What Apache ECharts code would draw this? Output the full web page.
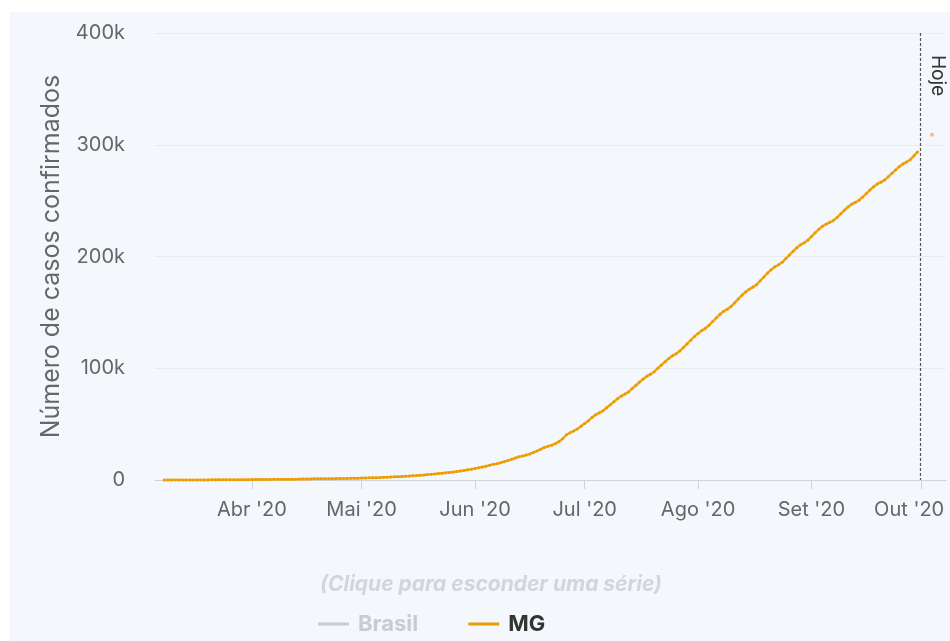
<!DOCTYPE html>
<html>
<head>
<meta charset="utf-8">
<script src="https://cdn.jsdelivr.net/npm/echarts@6/dist/echarts.min.js"></script>
<style>
  html, body { margin: 0; padding: 0; background: #ffffff; width: 950px; height: 641px; overflow: hidden; }
  #panel { position: absolute; left: 10px; top: 12px; width: 940px; height: 629px; background: #f4f7fb; }
  #chart { position: absolute; left: 0; top: 0; width: 950px; height: 641px; }
</style>
</head>
<body>
<div id="panel"></div>
<div id="chart"></div>
<script>
// ---- Data (cumulative confirmed cases, MG) ----
const firstDay = '2020-03-08';
const casesMar = [1, 1, 1, 1, 1, 2, 2, 7, 15, 20, 29, 35, 83, 128, 133, 153, 189, 205, 231, 261, 262, 275, 299, 314];
const casesApr = [370, 397, 430, 462, 491, 525, 560, 614, 661, 699, 727, 747, 775, 815, 867, 920, 963, 1009, 1044, 1088, 1115, 1154, 1213, 1265, 1330, 1382, 1417, 1474, 1580, 1650];
const casesMay = [1750, 1830, 1915, 2005, 2110, 2240, 2390, 2530, 2700, 2800, 2930, 3150, 3370, 3600, 3870, 4090, 4330, 4550, 4830, 5130, 5410, 5780, 6140, 6450, 6800, 7150, 7550, 8020, 8550, 9100, 9600];
const casesJun = [10200, 10900, 11600, 12400, 13300, 14000, 14600, 15400, 16400, 17400, 18500, 19700, 20700, 21400, 22300, 23300, 24700, 26000, 27600, 29100, 30300, 31200, 32500, 34500, 37000, 40500, 42300, 43900, 45700, 48200];
const casesJul = [50500, 53100, 55900, 58300, 60100, 61900, 64600, 67300, 70100, 72800, 75100, 76900, 78800, 81900, 84800, 87700, 90400, 92900, 94700, 96900, 100100, 103000, 105900, 108700, 111200, 112900, 115400, 118600, 121900, 125100, 128300];
const casesAug = [131200, 133700, 135700, 138500, 141900, 145100, 148300, 151000, 152900, 155200, 158600, 162000, 165300, 168300, 170800, 172600, 174800, 178300, 181700, 185200, 188200, 190800, 192600, 194800, 198100, 201400, 204800, 207800, 210500, 212200, 214600];
const casesSep = [217900, 221200, 224300, 227000, 228900, 230600, 232200, 235000, 238200, 241400, 244300, 246800, 248500, 250300, 253200, 256300, 259500, 262400, 264900, 266500, 268400, 271300, 274400, 277500, 280400, 282800, 284500, 286600, 290000, 293600];
const nextPoint = ['2020-10-04', 309000];
const todayDate = '2020-09-30T20:00:00';

const xTickDates = ['2020-04-01', '2020-05-01', '2020-06-01', '2020-07-01', '2020-08-01', '2020-09-01', '2020-10-01'];
const xTickLabels = ["Abr '20", "Mai '20", "Jun '20", "Jul '20", "Ago '20", "Set '20", "Out '20"];
const yTickValues = [0, 100000, 200000, 300000, 400000];
const yTickLabels = ['0', '100k', '200k', '300k', '400k'];

// ---- Build series points (one per day from firstDay) ----
const allCases = [].concat(casesMar, casesApr, casesMay, casesJun, casesJul, casesAug, casesSep);
const DAY = 86400000;
const ts = s => Date.parse(s.length <= 10 ? s + 'T00:00:00' : s);
const t0 = ts(firstDay);
const mgData = allCases.map((v, i) => [t0 + i * DAY, v]);
const nextData = [[ts(nextPoint[0]), nextPoint[1]]];
const todayT = ts(todayDate);

const tickTimes = xTickDates.map(ts);
const lastTick = tickTimes[tickTimes.length - 1];
const labelFor = {};
tickTimes.forEach((t, i) => { labelFor[t] = xTickLabels[i]; });
const yLabelFor = {};
yTickValues.forEach((v, i) => { yLabelFor[v] = yTickLabels[i]; });

const FONT = 'Inter, "Noto Sans", sans-serif';
const chart = echarts.init(document.getElementById('chart'), null, { renderer: 'canvas' });
chart.setOption({
  backgroundColor: 'transparent',
  animation: false,
  textStyle: { fontFamily: FONT },
  title: {
    text: '(Clique para esconder uma série)',
    left: 315,
    top: 569,
    textStyle: { fontFamily: FONT, fontStyle: 'italic', fontWeight: 'bold', fontSize: 21, color: '#d2d5d9' }
  },
  legend: {
    data: ['Brasil', 'MG'],
    selected: { 'Brasil': false, 'MG': true },
    left: 313,
    top: 608,
    itemGap: 50,
    itemWidth: 31,
    itemHeight: 3,
    icon: 'rect',
    inactiveColor: '#c8cbcf',
    textStyle: { fontFamily: FONT, fontSize: 22, fontWeight: 'bold', color: '#333333', padding: [0, 0, 0, 4] }
  },
  grid: { left: 155, right: 4, top: 33, bottom: 161, containLabel: false, outerBoundsMode: 'none' },
  xAxis: {
    type: 'value',
    min: ts('2020-03-05T12:00:00'),
    max: ts('2020-10-07T19:00:00'),
    axisLine: { show: true, lineStyle: { color: '#ccd3de', width: 1 } },
    axisTick: { show: true, length: 9, lineStyle: { color: '#ccd3de' }, customValues: tickTimes },
    axisLabel: {
      customValues: tickTimes,
      formatter: v => v === lastTick ? '{last|' + labelFor[v] + '}' : (labelFor[v] || ''),
      rich: { last: { color: '#666666', fontSize: 20, fontFamily: FONT, padding: [0, 24, 0, 0] } },
      color: '#666666', fontSize: 20, fontFamily: FONT, margin: 20, hideOverlap: false
    },
    splitLine: { show: false }
  },
  yAxis: {
    type: 'value',
    min: 0, max: 400000, interval: 100000,
    name: 'Número de casos confirmados',
    nameLocation: 'middle',
    nameGap: 91,
    nameTextStyle: { color: '#666666', fontSize: 25, fontFamily: FONT },
    axisLine: { show: false },
    axisTick: { show: false },
    axisLabel: { formatter: v => yLabelFor[v] !== undefined ? yLabelFor[v] : '', color: '#666666', fontSize: 20, fontFamily: FONT, margin: 30 },
    splitLine: { lineStyle: { color: '#e8ecf1', width: 1 } }
  },
  series: [
    { name: 'Brasil', type: 'line', data: [], color: '#c8cbcf' },
    {
      name: 'MG', type: 'line', data: mgData, color: '#f5a50a',
      showSymbol: true, symbol: 'circle', symbolSize: 3,
      itemStyle: { color: '#e99d05' },
      lineStyle: { color: '#f5a816', width: 2.5 },
      z: 3,
      markLine: {
        silent: true, symbol: ['none', 'none'],
        lineStyle: { color: '#555555', type: [3, 2], width: 1.2 },
        label: { show: true, formatter: 'Hoje', position: 'insideStartTop', color: '#333333', fontSize: 19, fontFamily: FONT, distance: [22, 8] },
        data: [[{ coord: [todayT, 400000] }, { coord: [todayT, 0] }]]
      }
    },
    {
      name: 'MG-próximo', type: 'scatter', data: nextData,
      symbolSize: 4, itemStyle: { color: '#e6b070', opacity: 0.8 }, z: 2
    }
  ]
});
</script>
</body>
</html>
